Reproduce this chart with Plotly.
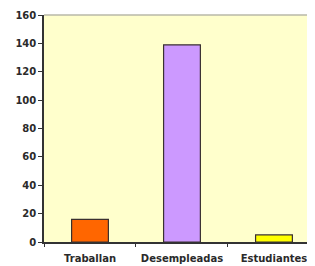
import plotly.graph_objects as go

categories = ["Traballan", "Desempleadas", "Estudiantes"]
values = [16, 139, 5]
colors = ["#FF6600", "#CC99FF", "#FFFF00"]
y_ticks = [0, 20, 40, 60, 80, 100, 120, 140, 160]

FONT = "DejaVu Sans"
# page body has an 8px default margin; compensate so the plot lands where the reference has it
fig = go.Figure(go.Bar(
    x=categories, y=values,
    marker=dict(color=colors, line=dict(color="#3a3030", width=1.2)),
    width=0.4,
))

fig.update_layout(
    width=307, height=258,
    margin=dict(l=36, r=0, t=7, b=24),
    paper_bgcolor="white",
    plot_bgcolor="#FFFFCC",
    showlegend=False,
    font=dict(family=FONT, size=10, color="#2a2a2a", weight="bold"),
    shapes=[dict(type="line", xref="paper", yref="paper", x0=0, x1=1, y0=1, y1=1,
                 line=dict(color="#b8b8a8", width=1.5))],
)
fig.update_xaxes(
    type="category", range=[-0.5, 2.446],
    showline=True, linecolor="#333333", linewidth=1.5,
    ticks="outside", tickson="boundaries", ticklen=3, tickcolor="#333333",
    ticklabelstandoff=6, automargin=False,
    showgrid=False, tickfont=dict(size=10, color="#2a2a2a", family=FONT, weight="bold"),
)
fig.update_yaxes(
    range=[0, 160], tickvals=y_ticks,
    showline=True, linecolor="#333333", linewidth=1.5,
    ticks="outside", ticklen=4, tickcolor="#333333",
    showgrid=False, zeroline=False,
    tickfont=dict(size=10, color="#2a2a2a", family=FONT, weight="bold"),
)

fig.write_html("out.html")
